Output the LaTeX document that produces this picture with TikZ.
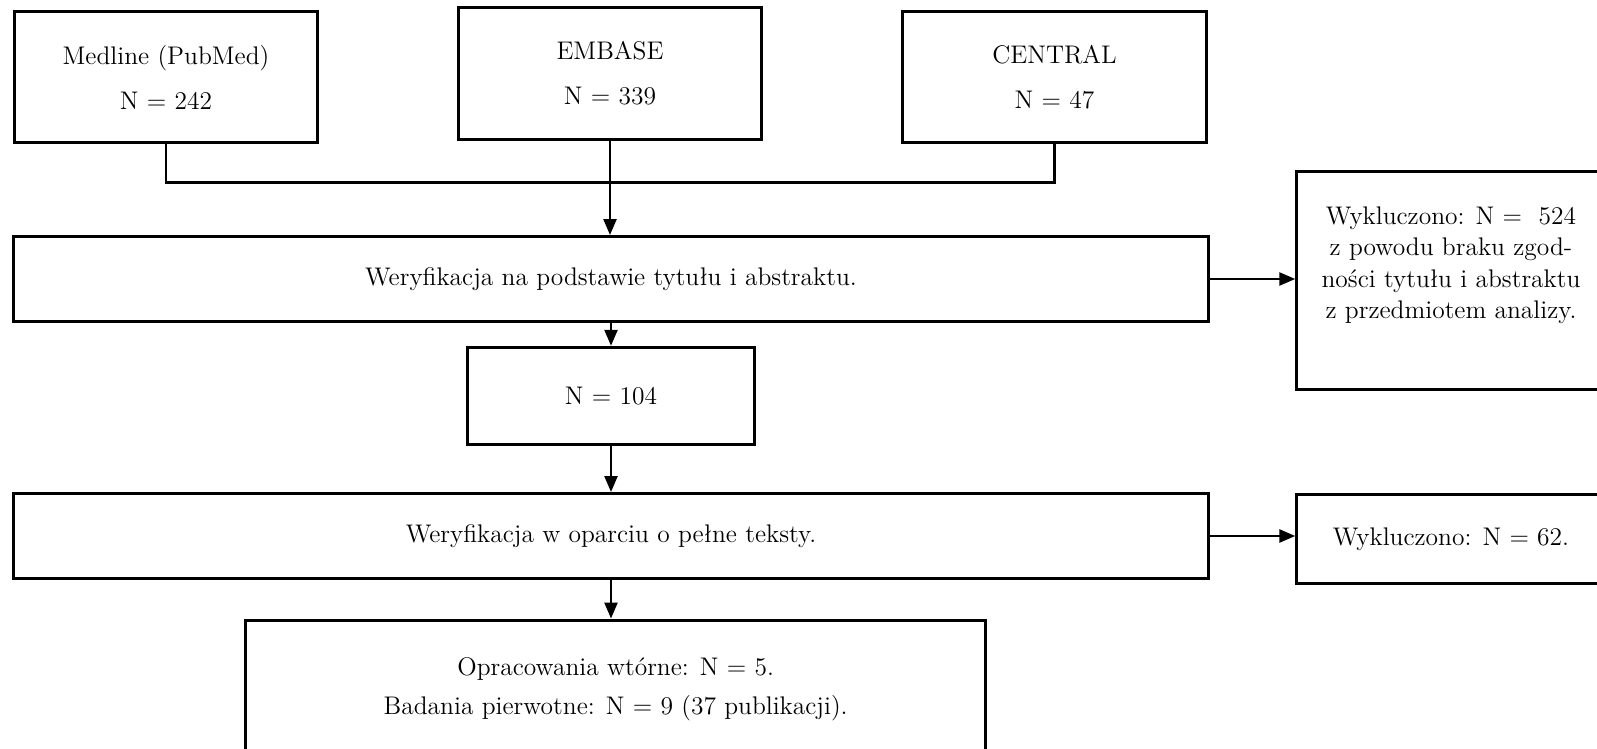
\documentclass[tikz,border=0pt]{standalone}
\usepackage{tikz}
\usetikzlibrary{arrows.meta,positioning}

\tikzset{
    box/.style={draw, line width=1.7pt, align=center, inner sep=0pt},
    src/.style={box, minimum width=6.08cm, minimum height=2.63cm, font=\fontsize{14.5}{25.6}\selectfont},
    wide/.style={box, minimum width=23.92cm, minimum height=1.70cm, font=\fontsize{14.5}{17}\selectfont},
    side/.style={box, minimum width=6.17cm, font=\fontsize{14.5}{17.9}\selectfont},
    txt/.style={align=center, inner sep=0pt, font=\fontsize{14.5}{17.9}\selectfont},
    link/.style={line width=1.4pt},
    arr/.style={link, -{Triangle[length=0.32cm,width=0.26cm]}}
}

\begin{document}
\begin{tikzpicture}[x=0.02cm, y=-0.02cm]
    \useasboundingbox[fill=white] (0,0) rectangle (1597,749);
    \node[src] (medline) at (166,77) {Medline (PubMed)\\N = 242};
    \node[src] (embase) at (610,73.5) {EMBASE\\N = 339};
    \node[src] (central) at (1054.5,77) {CENTRAL\\N = 47};
    \node[wide] (title) at (611,279) {Weryfikacja na podstawie tytułu i abstraktu.};
    \node[side, minimum height=4.38cm] (excl1) at (1451,280.5) {};
    \node[txt, below=0.74cm of excl1.north] (excl1txt) {Wykluczono: N = \ 524\\z powodu braku zgod-\\ności tytułu i abstraktu\\z przedmiotem analizy.};
    \node[box, minimum width=5.75cm, minimum height=1.95cm, font=\fontsize{14.5}{17}\selectfont] (n104) at (611,396) {N = 104};
    \node[wide] (full) at (611,536) {Weryfikacja w oparciu o pełne teksty.};
    \node[side, minimum height=1.79cm] (excl2) at (1451,539) {Wykluczono: N = 62.};
    \node[box, minimum width=14.81cm, minimum height=2.76cm, font=\fontsize{14.5}{22.5}\selectfont] (final) at (615.7,689) {Opracowania wtórne: N = 5.\\Badania pierwotne: N = 9 (37 publikacji).};
    \draw[link] (medline.south) -- (medline.south |- 0,182.3) -| (central.south);
    \draw[arr] (embase.south) -- (embase.south |- title.north);
    \draw[arr] (title.east) -- (title.east -| excl1.west);
    \draw[arr] (title.south) -- (n104.north);
    \draw[arr] (n104.south) -- (full.north);
    \draw[arr] (full.east) -- (full.east -| excl2.west);
    \draw[arr] (full.south) -- (full.south |- final.north);
\end{tikzpicture}
\end{document}
